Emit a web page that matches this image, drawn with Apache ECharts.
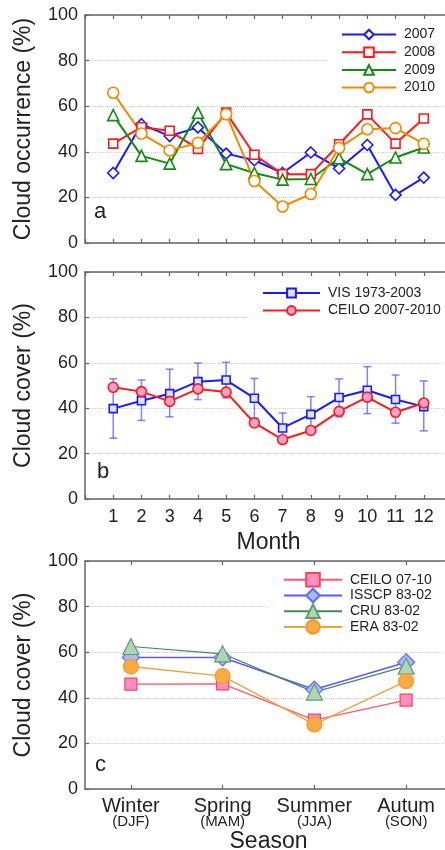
<!DOCTYPE html>
<html>
<head>
<meta charset="utf-8">
<script src="https://cdn.jsdelivr.net/npm/echarts@6/dist/echarts.min.js"></script>
<style>
html,body{margin:0;padding:0;background:#fff;}
#chart{width:445px;height:850px;}
</style>
</head>
<body>
<div id="chart"></div>
<script>
// ---- data ----
const months = [1,2,3,4,5,6,7,8,9,10,11,12];
const occ2007 = [30.7,52.1,46.9,50.7,39.2,36.3,30.7,39.7,32.7,43.0,21.1,28.7];
const occ2008 = [43.6,50.8,49.2,41.3,57.2,38.7,30.2,30.2,43.3,56.4,43.6,54.6];
const occ2009 = [56.1,38.2,34.8,57.1,34.6,30.7,27.8,28.1,37.2,30.2,37.5,41.9];
const occ2010 = [65.9,48.0,40.6,43.9,56.5,27.2,16.0,21.5,41.7,49.9,50.4,43.5];

const visMean = [39.8,43.3,46.4,51.7,52.4,44.4,31.3,37.3,44.7,47.9,43.8,40.7];
const visHi   = [53.0,52.4,57.2,59.9,60.2,53.1,37.9,45.1,52.9,58.3,54.6,52.0];
const visLo   = [26.8,34.6,36.2,43.8,44.5,35.7,24.7,29.5,36.2,37.6,33.4,30.0];
const ceiloMonthly = [49.2,47.3,43.0,48.5,47.1,33.5,26.2,30.2,38.6,44.9,38.2,42.3];

const seasons = ['Winter','Spring','Summer','Autum'];
const seasonCodes = ['(DJF)','(MAM)','(JJA)','(SON)'];
const ceiloSeason = [46.0,46.1,30.2,39.0];
const isscpSeason = [57.7,57.7,43.6,55.6];
const cruSeason   = [62.5,59.3,42.5,53.9];
const eraSeason   = [53.7,49.5,28.3,47.3];

const yTicks = [0,20,40,60,80,100];

// ---- helpers ----
const FONT = '"Liberation Sans", Arial, sans-serif';
const AX = '#666';
const pairs = (xs, ys) => xs.map((x,i)=>[x, ys[i]]);

const chart = echarts.init(document.getElementById('chart'), null, {renderer:'canvas'});

const grids = [
  {left:85, top:15, height:228, right:-7, outerBoundsMode:'none', containLabel:false},
  {left:85, top:272, height:227, right:-7, outerBoundsMode:'none', containLabel:false},
  {left:85, top:561, height:228, right:-7, outerBoundsMode:'none', containLabel:false}
];

function monthAxis(gi, pos, labels) {
  return {
    type:'value', gridIndex:gi, position:pos, min:0, max:13, interval:1,
    axisLine:{show:true, onZero:false, lineStyle:{color:AX, width:1.5}},
    axisTick:{show:true, inside:true, length:4, lineStyle:{color:AX, width:1.2}},
    splitLine:{show:false},
    axisLabel:{show:labels, margin:9, fontSize:18, color:'#222', fontFamily:FONT,
      formatter:v => (v>=1 && v<=12) ? String(v) : ''},
    name: (labels ? 'Month' : ''), nameLocation:'middle', nameGap:32,
    nameTextStyle:{fontSize:23, color:'#222', fontFamily:FONT}
  };
}
function seasonAxis(gi, pos, labels) {
  return {
    type:'category', gridIndex:gi, position:pos, data:seasons, boundaryGap:true,
    axisLine:{show:true, onZero:false, lineStyle:{color:AX, width:1.5}},
    axisTick:{show:true, inside:true, alignWithLabel:true, length:4, lineStyle:{color:AX, width:1.2}},
    axisLabel:{show:labels, margin:9, interval:0, color:'#222', fontFamily:FONT,
      formatter:(v, i) => '{a|' + v + '}\n{b|' + seasonCodes[i] + '}',
      rich:{a:{fontSize:20, lineHeight:17, fontFamily:FONT, color:'#222'},
            b:{fontSize:15, lineHeight:14, fontFamily:FONT, color:'#222'}}},
    name: (labels ? 'Season' : ''), nameLocation:'middle', nameGap:40,
    nameTextStyle:{fontSize:23, color:'#222', fontFamily:FONT}
  };
}
function yAxisFor(gi, title) {
  return {
    type:'value', gridIndex:gi, min:yTicks[0], max:yTicks[yTicks.length-1], interval:20,
    axisLine:{show:true, lineStyle:{color:AX, width:1.5}},
    axisTick:{show:true, inside:true, length:4, lineStyle:{color:AX, width:1.2}},
    splitLine:{show:true, lineStyle:{color:'#cfcfcf', type:'dotted', width:1}},
    axisLabel:{margin:7, fontSize:18, color:'#222', fontFamily:FONT},
    name:title, nameLocation:'middle', nameGap:50, nameRotate:90,
    nameTextStyle:{fontSize:23, color:'#222', fontFamily:FONT}
  };
}

function lineA(name, data, color, symbol, size) {
  return {
    name, type:'line', xAxisIndex:0, yAxisIndex:0, data:pairs(months, data),
    symbol, symbolSize:size, showAllSymbol:true,
    lineStyle:{color, width:2},
    itemStyle:{color:'#fff', borderColor:color, borderWidth:1.6},
    emphasis:{disabled:true}, animation:false, z:3
  };
}
function lineC(name, data, lineColor, lw, fill, border, symbol, size) {
  return {
    name, type:'line', xAxisIndex:4, yAxisIndex:2, data:data,
    symbol, symbolSize:size,
    lineStyle:{color:lineColor, width:lw},
    itemStyle:{color:fill, borderColor:border, borderWidth:1.2},
    emphasis:{disabled:true}, animation:false, z:3
  };
}

const legendText = {fontSize:14, color:'#222', fontFamily:FONT, padding:[0,0,0,3]};

const option = {
  animation:false,
  backgroundColor:'#fff',
  textStyle:{fontFamily:FONT},
  grid:grids,
  xAxis:[
    monthAxis(0,'bottom',false),
    monthAxis(0,'top',false),
    monthAxis(1,'bottom',true),
    monthAxis(1,'top',false),
    seasonAxis(2,'bottom',true),
    seasonAxis(2,'top',false)
  ],
  yAxis:[
    yAxisFor(0,'Cloud occurrence (%)'),
    yAxisFor(1,'Cloud cover (%)'),
    yAxisFor(2,'Cloud cover (%)')
  ],
  legend:[
    {data:['2007','2008','2009','2010'], orient:'vertical', left:329, top:25,
     itemWidth:54, itemHeight:12, itemGap:3.7, padding:[2.5,12,5,12],
     backgroundColor:'#fff', textStyle:legendText, selectedMode:false},
    {data:['VIS 1973-2003','CEILO 2007-2010'], orient:'vertical', left:250, top:282,
     itemWidth:57, itemHeight:11, itemGap:3.5, padding:[4,12,5,12],
     backgroundColor:'#fff', textStyle:legendText, selectedMode:false},
    {data:['CEILO 07-10','ISSCP 83-02','CRU 83-02','ERA 83-02'], orient:'vertical', left:269, top:570,
     itemWidth:58, itemHeight:17, itemGap:0.1, padding:[2,12,4,14],
     backgroundColor:'#fff', textStyle:legendText, selectedMode:false}
  ],
  graphic:[
    {type:'text', left:94, top:201, style:{text:'a', fontSize:22, fontFamily:FONT, fill:'#222'}},
    {type:'text', left:97, top:461, style:{text:'b', fontSize:22, fontFamily:FONT, fill:'#222'}},
    {type:'text', left:95, top:754, style:{text:'c', fontSize:22, fontFamily:FONT, fill:'#222'}}
  ],
  series:[
    lineA('2007', occ2007, '#1a1aff', 'diamond', 11),
    lineA('2008', occ2008, '#ff1a1a', 'rect', 9),
    lineA('2009', occ2009, '#138a13', 'triangle', 11),
    lineA('2010', occ2010, '#ee8a00', 'circle', 11),
    {
      name:'visErr', type:'custom', xAxisIndex:2, yAxisIndex:1,
      data:months.map((m,i)=>[m, visLo[i], visHi[i]]),
      renderItem:function(params, api){
        const x = api.value(0);
        const p1 = api.coord([x, api.value(1)]);
        const p2 = api.coord([x, api.value(2)]);
        const st = {stroke:'rgba(90,90,255,0.75)', lineWidth:1.5};
        const w = 4;
        return {type:'group', children:[
          {type:'line', shape:{x1:p1[0], y1:p1[1], x2:p2[0], y2:p2[1]}, style:st},
          {type:'line', shape:{x1:p1[0]-w, y1:p1[1], x2:p1[0]+w, y2:p1[1]}, style:st},
          {type:'line', shape:{x1:p2[0]-w, y1:p2[1], x2:p2[0]+w, y2:p2[1]}, style:st}
        ]};
      },
      z:2, animation:false, silent:true
    },
    {
      name:'VIS 1973-2003', type:'line', xAxisIndex:2, yAxisIndex:1, data:pairs(months, visMean),
      symbol:'rect', symbolSize:8, lineStyle:{color:'#1a1aff', width:2},
      itemStyle:{color:'#dfe3ff', borderColor:'#1a1aff', borderWidth:1.6},
      emphasis:{disabled:true}, z:3
    },
    {
      name:'CEILO 2007-2010', type:'line', xAxisIndex:2, yAxisIndex:1, data:pairs(months, ceiloMonthly),
      symbol:'circle', symbolSize:10, lineStyle:{color:'#ff1a1a', width:2},
      itemStyle:{color:'#f7a0c8', borderColor:'#ff1a1a', borderWidth:1.6},
      emphasis:{disabled:true}, z:4
    },
    lineC('CEILO 07-10', ceiloSeason, '#ff5a6a', 1.2, '#ff8fbf', '#ff3f60', 'rect', 12),
    lineC('ISSCP 83-02', isscpSeason, '#5a5aff', 1.6, '#aab8ff', '#5a6cff', 'diamond', 17),
    lineC('CRU 83-02', cruSeason, '#3f8a5a', 1.2, '#aed6b4', '#5e9e70', 'triangle', 16),
    lineC('ERA 83-02', eraSeason, '#f0a040', 1.4, '#f8aa44', '#f39a30', 'circle', 15)
  ]
};
chart.setOption(option);
</script>
</body>
</html>
